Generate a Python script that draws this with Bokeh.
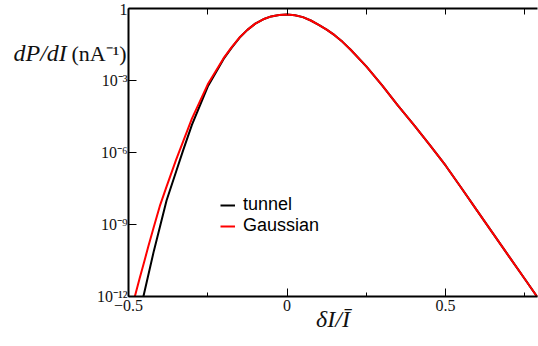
import numpy as np
from bokeh.plotting import figure
from bokeh.models import (FixedTicker, LinearAxis, Title, Legend, LegendItem,
                          CustomJSTickFormatter, Range1d)
from bokeh.embed import file_html
from bokeh.resources import INLINE

# ---- data (log10 of dP/dI) ----
gauss_x = [-0.49, -0.483, -0.465, -0.45, -0.438, -0.42, -0.40, -0.38, -0.35, -0.30,
           -0.25, -0.20, -0.175, -0.15, -0.125, -0.10, -0.075, -0.05, -0.025, 0.0,
           0.025, 0.05, 0.075, 0.10, 0.125, 0.15, 0.175, 0.20, 0.25,
           0.30, 0.35, 0.40, 0.45, 0.50, 0.55, 0.60, 0.65, 0.70, 0.75, 0.79, 0.80]
gauss_log10 = [-12.5, -12.15, -11.25, -10.53, -9.94, -9.09, -8.18, -7.42, -6.31, -4.59,
               -3.16, -2.07, -1.62, -1.21, -0.89, -0.63, -0.45, -0.33, -0.27, -0.25,
               -0.28, -0.36, -0.50, -0.68, -0.88, -1.11, -1.39, -1.71, -2.41,
               -3.20, -4.05, -4.85, -5.68, -6.54, -7.48, -8.43, -9.38, -10.33, -11.27, -12.03, -12.2]

tunnel_x = [-0.46, -0.453, -0.44, -0.42, -0.40, -0.38, -0.35, -0.328, -0.30, -0.25,
            -0.20, -0.175, -0.15, -0.125, -0.10, -0.075, -0.05, -0.025, 0.0,
            0.025, 0.05, 0.075, 0.10, 0.125, 0.15, 0.175, 0.20, 0.25,
            0.30, 0.35, 0.40, 0.45, 0.50, 0.55, 0.60, 0.65, 0.70, 0.75, 0.79, 0.80]
tunnel_log10 = [-12.5, -12.0, -11.25, -10.1, -9.05, -8.0, -6.8, -5.92, -4.85, -3.25,
                -2.10, -1.64, -1.22, -0.89, -0.63, -0.45, -0.33, -0.27, -0.25,
                -0.28, -0.36, -0.50, -0.68, -0.88, -1.11, -1.39, -1.71, -2.41,
                -3.20, -4.05, -4.85, -5.68, -6.54, -7.48, -8.43, -9.38, -10.33, -11.27, -12.03, -12.2]

x_major = [-0.5, 0.0, 0.5]
x_minor = [-0.25, 0.25, 0.75]
y_major = [1e-12, 1e-9, 1e-6, 1e-3, 1.0]

gauss_y = [10.0 ** v for v in gauss_log10]
tunnel_y = [10.0 ** v for v in tunnel_log10]

p = figure(width=538, height=346, x_range=Range1d(-0.5, 0.79), y_range=Range1d(1e-12, 1.0),
           y_axis_type="log", output_backend="svg", toolbar_location=None, title_location=None,
           min_border_left=128, min_border_right=1, min_border_top=8, min_border_bottom=50)
p.xgrid.visible = False
p.ygrid.visible = False
p.outline_line_color = None
p.background_fill_color = "white"
p.border_fill_color = "white"

# top frame edge: tick marks only (no labels)
top = LinearAxis(ticker=FixedTicker(ticks=[], minor_ticks=x_major + x_minor))
p.add_layout(top, "above")
bottom = p.below[0]
left = p.left[0]

serif = "Liberation Serif"
bottom.ticker = FixedTicker(ticks=x_major, minor_ticks=x_minor)
for ax in [bottom, left, top]:
    ax.axis_line_width = 2
    ax.axis_line_color = "black"
    ax.major_tick_line_width = 1
    ax.minor_tick_line_width = 1
    ax.major_tick_line_color = "black"
    ax.minor_tick_line_color = "black"
    ax.major_tick_in = 8
    ax.major_tick_out = 0
    ax.minor_tick_in = 4
    ax.minor_tick_out = 0
    ax.major_label_text_font = serif
    ax.major_label_text_font_size = "16px"
    ax.major_label_text_color = "#111111"
top.minor_tick_in = 6

bottom.major_label_standoff = 3
bottom.axis_label = "\u03b4I/\u012a"
bottom.axis_label_text_font = serif
bottom.axis_label_text_font_style = "italic"
bottom.axis_label_text_font_size = "24px"
bottom.axis_label_text_color = "#111111"
bottom.axis_label_standoff = -8

left.ticker = FixedTicker(ticks=y_major, minor_ticks=[])
left.major_label_standoff = 1
left.formatter = CustomJSTickFormatter(code="""
const e = Math.round(Math.log10(tick));
if (e == 0) { return '1'; }
const sup = {'-':'\u207b','0':'\u2070','1':'\u00b9','2':'\u00b2','3':'\u00b3','4':'\u2074',
             '5':'\u2075','6':'\u2076','7':'\u2077','8':'\u2078','9':'\u2079'};
return '10' + String(e).split('').map(c => sup[c]).join('');
""")

r_t = p.line(tunnel_x, tunnel_y, line_color="black", line_width=2)
r_g = p.line(gauss_x, gauss_y, line_color="red", line_width=2)

def make_legend(label, rend, loc):
    return Legend(items=[LegendItem(label=label, renderers=[rend])], location=loc,
                  padding=0, margin=0, spacing=0, glyph_width=15, label_standoff=8,
                  label_text_font="Liberation Sans", label_text_font_size="18px",
                  label_text_color="black",
                  border_line_color=None, background_fill_alpha=0)

p.add_layout(make_legend("tunnel", r_t, (92, 81)))
p.add_layout(make_legend("Gaussian", r_g, (92, 60)))

# y-axis title: horizontal, in the upper-left margin (two parts: italic + upright)
p.add_layout(Title(text="dP/dI", align="left", offset=13 - 128, vertical_align="bottom",
                   standoff=-114, text_font=serif, text_font_style="italic",
                   text_font_size="24px", text_color="#111111"), "above")
p.add_layout(Title(text="(nA\u207b\u00b9)", align="left", offset=71 - 128, vertical_align="bottom",
                   standoff=-114, text_font=serif, text_font_style="normal",
                   text_font_size="22px", text_color="#111111"), "above")

open("out.html", "w").write(file_html(p, INLINE))
